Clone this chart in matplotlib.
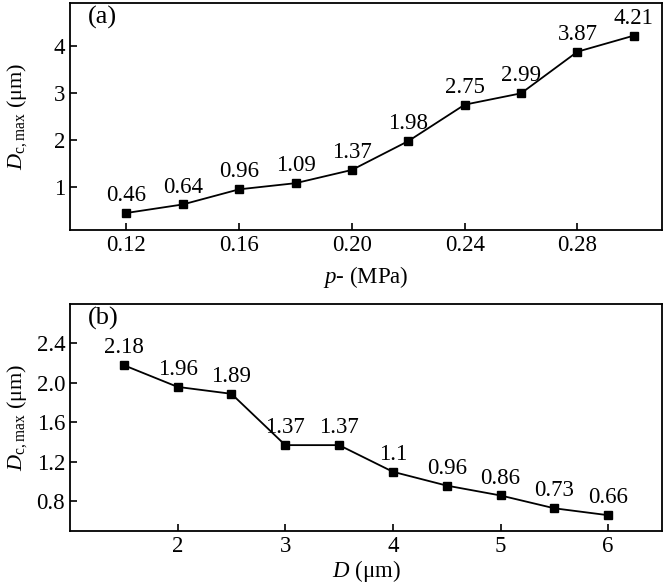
import matplotlib.pyplot as plt

plt.rcParams['font.family'] = ['Liberation Serif', 'DejaVu Serif']
plt.rcParams['mathtext.fontset'] = 'custom'
plt.rcParams['mathtext.rm'] = 'Liberation Serif'
plt.rcParams['mathtext.it'] = 'Liberation Serif:italic'
plt.rcParams['font.size'] = 16.5

# (a) effect of pressure
p_vals = [0.12, 0.14, 0.16, 0.18, 0.20, 0.22, 0.24, 0.26, 0.28, 0.30]
dc_a = [0.46, 0.64, 0.96, 1.09, 1.37, 1.98, 2.75, 2.99, 3.87, 4.21]
labels_a = ['0.46', '0.64', '0.96', '1.09', '1.37', '1.98', '2.75', '2.99', '3.87', '4.21']
ticks_a = [0.12, 0.16, 0.20, 0.24, 0.28]
tick_labels_a = ['0.12', '0.16', '0.20', '0.24', '0.28']

# (b) effect of pore diameter
d_vals = [1.5, 2.0, 2.5, 3.0, 3.5, 4.0, 4.5, 5.0, 5.5, 6.0]
dc_b = [2.18, 1.96, 1.89, 1.37, 1.37, 1.10, 0.96, 0.86, 0.73, 0.66]
labels_b = ['2.18', '1.96', '1.89', '1.37', '1.37', '1.1', '0.96', '0.86', '0.73', '0.66']
yticks_b = [0.8, 1.2, 1.6, 2.0, 2.4]

fig = plt.figure(figsize=(6.66, 5.87), dpi=100)
ax1 = fig.add_axes([70 / 666, 1 - 230 / 587, 592 / 666, 227 / 587])
ax2 = fig.add_axes([70 / 666, 1 - 531 / 587, 592 / 666, 227 / 587])


def draw(ax, x, y, labels):
    ax.plot(x, y, '-', color='black', lw=1.3, marker='s', ms=5.5)
    for xi, yi, lab in zip(x, y, labels):
        ax.annotate(lab, (xi, yi), xytext=(0, 5), textcoords='offset points',
                    ha='center', va='bottom')
    for s in ax.spines.values():
        s.set_linewidth(1.3)
    ax.tick_params(direction='in', length=5, width=1.2, top=False, right=False)


draw(ax1, p_vals, dc_a, labels_a)
ax1.set_xlim(0.1, 0.31)
ax1.set_ylim(0.1, 4.9)
ax1.set_xticks(ticks_a)
ax1.set_xticklabels(tick_labels_a)
ax1.set_yticks([1, 2, 3, 4])
ax1.set_xlabel(r'$p$- (MPa)', labelpad=6)
ax1.set_ylabel(r'$D_{\rm c,max}$ (μm)', fontsize=16)
ax1.yaxis.set_label_coords(-0.07, 0.5)
ax1.text(0.03, 0.985, '(a)', transform=ax1.transAxes, ha='left', va='top', fontsize=19)

draw(ax2, d_vals, dc_b, labels_b)
ax2.set_xlim(1.0, 6.5)
ax2.set_ylim(0.5, 2.8)
ax2.set_xticks([2, 3, 4, 5, 6])
ax2.set_yticks(yticks_b)
ax2.set_yticklabels(['0.8', '1.2', '1.6', '2.0', '2.4'])
ax2.set_xlabel(r'$D$ (μm)', labelpad=1)
ax2.set_ylabel(r'$D_{\rm c,max}$ (μm)', fontsize=16)
ax2.yaxis.set_label_coords(-0.07, 0.5)
ax2.text(0.03, 0.985, '(b)', transform=ax2.transAxes, ha='left', va='top', fontsize=19)

plt.savefig('out.png', dpi=100)
plt.close()
